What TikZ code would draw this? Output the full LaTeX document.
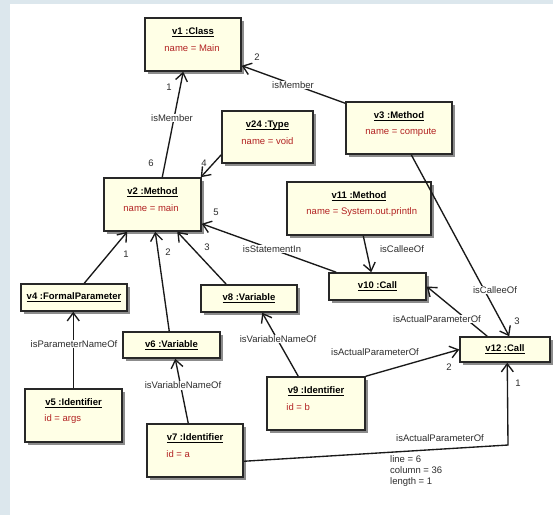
\documentclass[tikz,border=0pt]{standalone}
\usepackage{fontspec}
\setmainfont{Liberation Sans}
\usetikzlibrary{arrows.meta,calc,shadows}

\definecolor{pagebg}{RGB}{220,231,237}
\definecolor{boxfill}{RGB}{255,255,230}
\definecolor{boxline}{RGB}{40,40,40}
\definecolor{attrred}{RGB}{178,34,34}
\definecolor{linec}{RGB}{25,25,25}
\definecolor{labc}{RGB}{45,45,45}

% bold, underlined object name
\newcommand\objname[1]{\begingroup\setbox0=\hbox{\bfseries #1}%
  \leavevmode\rlap{\raisebox{-2.3pt}{\rule{\wd0}{1pt}}}\box0\endgroup}

\tikzset{
  objbox/.style={draw=boxline, line width=1.5pt, fill=boxfill, inner sep=0pt,
    drop shadow={shadow xshift=2.5pt, shadow yshift=-2.5pt, fill=black, opacity=0.45}},
  objtitle/.style={inner sep=0pt},
  objattr/.style={inner sep=0pt, text=attrred},
  conn/.style={draw=linec, line width=1.35pt},
  nav/.style={conn, -{Straight Barb[length=8pt,width=12pt]}},
  elabel/.style={fill=white, inner sep=1pt, text=labc},
  endno/.style={inner sep=0pt, text=labc},
}

% object with name and one attribute: name, left, top, right, bottom, title, attribute
\newcommand\objtwo[7]{%
  \node[objbox, minimum width={(#4-#2)*1pt}, minimum height={(#5-#3)*1pt}]
    (#1) at ({(#2+#4)/2},{(#3+#5)/2}) {};
  \node[objtitle] (#1-t) at ($(#1.north)+(0,15)$) {\objname{#6}};
  \node[objattr, anchor=west] (#1-a) at ($(#1.north west)+(20,31)$) {#7};
}
% object with name only
\newcommand\objone[6]{%
  \node[objbox, minimum width={(#4-#2)*1pt}, minimum height={(#5-#3)*1pt}]
    (#1) at ({(#2+#4)/2},{(#3+#5)/2}) {};
  \node[objtitle] (#1-t) at (#1.center) {\objname{#6}};
}

\begin{document}
\begin{tikzpicture}[x=1pt, y=-1pt, font=\fontsize{9.5}{11}\selectfont]
\useasboundingbox (0,0) rectangle (553,515);
\fill[pagebg] (0,0) rectangle (553,515);
\fill[white] (10,4) rectangle (553,515);

% objects
\objtwo{v1}{145}{18}{241}{71}{v1 :Class}{name = Main}
\objtwo{v3}{346}{102}{452}{154}{v3 :Method}{name = compute}
\objtwo{v24}{222}{111}{313}{163}{v24 :Type}{name = void}
\objtwo{v2}{104}{178}{201}{231}{v2 :Method}{name = main}
\objtwo{v11}{287}{182}{431}{235}{v11 :Method}{name = System.out.println}
\objone{v4}{21}{284}{127}{311}{v4 :FormalParameter}
\objone{v8}{201}{285}{297}{312}{v8 :Variable}
\objone{v10}{329}{273}{426}{300}{v10 :Call}
\objone{v6}{123}{332}{220}{358}{v6 :Variable}
\objone{v12}{460}{337}{550}{362}{v12 :Call}
\objtwo{v5}{25}{389}{122}{442}{v5 :Identifier}{id = args}
\objtwo{v7}{147}{424}{243}{477}{v7 :Identifier}{id = a}
\objtwo{v9}{267}{377}{365}{430}{v9 :Identifier}{id = b}

% links
\draw[nav] ($(v2.north west)+(59,0)$) -- ($(v1.south west)+(39,0)$);
\draw[nav] ($(v3.north west)+(0,2)$) -- ($(v1.south east)+(0,-6)$);
\draw[nav] ($(v24.south west)+(0,-9)$) -- ($(v2.north east)+(-1,0)$);
\draw[nav] ($(v10.north west)+(8,0)$) -- ($(v2.south east)+(0,-8)$);
\draw[nav] ($(v11.south west)+(77,0)$) -- ($(v10.north west)+(43,0)$);
\draw[nav] ($(v12.north west)+(28,0)$) -- (v10.east);
\draw[nav] ($(v3.south west)+(66,0)$) -- ($(v12.north west)+(50,0)$);
\draw[nav] (v9.north east) -- (v12.west);
\coordinate (bend) at (508,445);
\draw[nav] ($(v7.north east)+(0,38)$) -- (bend) -- ($(v12.south west)+(48,0)$);
\draw[nav] ($(v9.north west)+(32,0)$) -- ($(v8.south west)+(62,0)$);
\draw[nav] ($(v8.north west)+(26,0)$) -- ($(v2.south west)+(74,0)$);
\draw[nav] ($(v6.north west)+(47,0)$) -- ($(v2.south west)+(52,0)$);
\draw[nav] ($(v4.north west)+(64,0)$) -- ($(v2.south west)+(24,0)$);
\draw[nav] ($(v5.north west)+(49,0)$) -- ($(v4.south west)+(53,0)$);
\draw[nav] ($(v7.north west)+(42,0)$) -- ($(v6.south west)+(53,0)$);

% link names
\node[elabel] (m1) at (172,118) {isMember};
\node[elabel] (m2) at (293,85) {isMember};
\node[elabel] (s1) at (272,249) {isStatementIn};
\node[elabel] (c1) at (402,249) {isCalleeOf};
\node[elabel] (c2) at (495,290) {isCalleeOf};
\node[elabel] (p1) at (437,319) {isActualParameterOf};
\node[elabel] (p2) at (375,352) {isActualParameterOf};
\node[elabel] (p3) at (440,438) {isActualParameterOf};
\node[elabel] (n1) at (278,339) {isVariableNameOf};
\node[elabel] (n2) at (183,385) {isVariableNameOf};
\node[elabel] (n3) at (74,344) {isParameterNameOf};
\node[endno, anchor=north west, align=left] (attrs) at (390,455)
  {line = 6\\column = 36\\length = 1};

% link end positions
\node[endno] (e1) at (169,87) {1};
\node[endno] (e2) at (151,163) {6};
\node[endno] (e3) at (257,57) {2};
\node[endno] (e4) at (204,163) {4};
\node[endno] (e5) at (216,212) {5};
\node[endno] (e6) at (517,321) {3};
\node[endno] (e7) at (449,367) {2};
\node[endno] (e8) at (518,383) {1};
\node[endno] (e9) at (207,247) {3};
\node[endno] (e10) at (168,252) {2};
\node[endno] (e11) at (126,254) {1};
\end{tikzpicture}
\end{document}
